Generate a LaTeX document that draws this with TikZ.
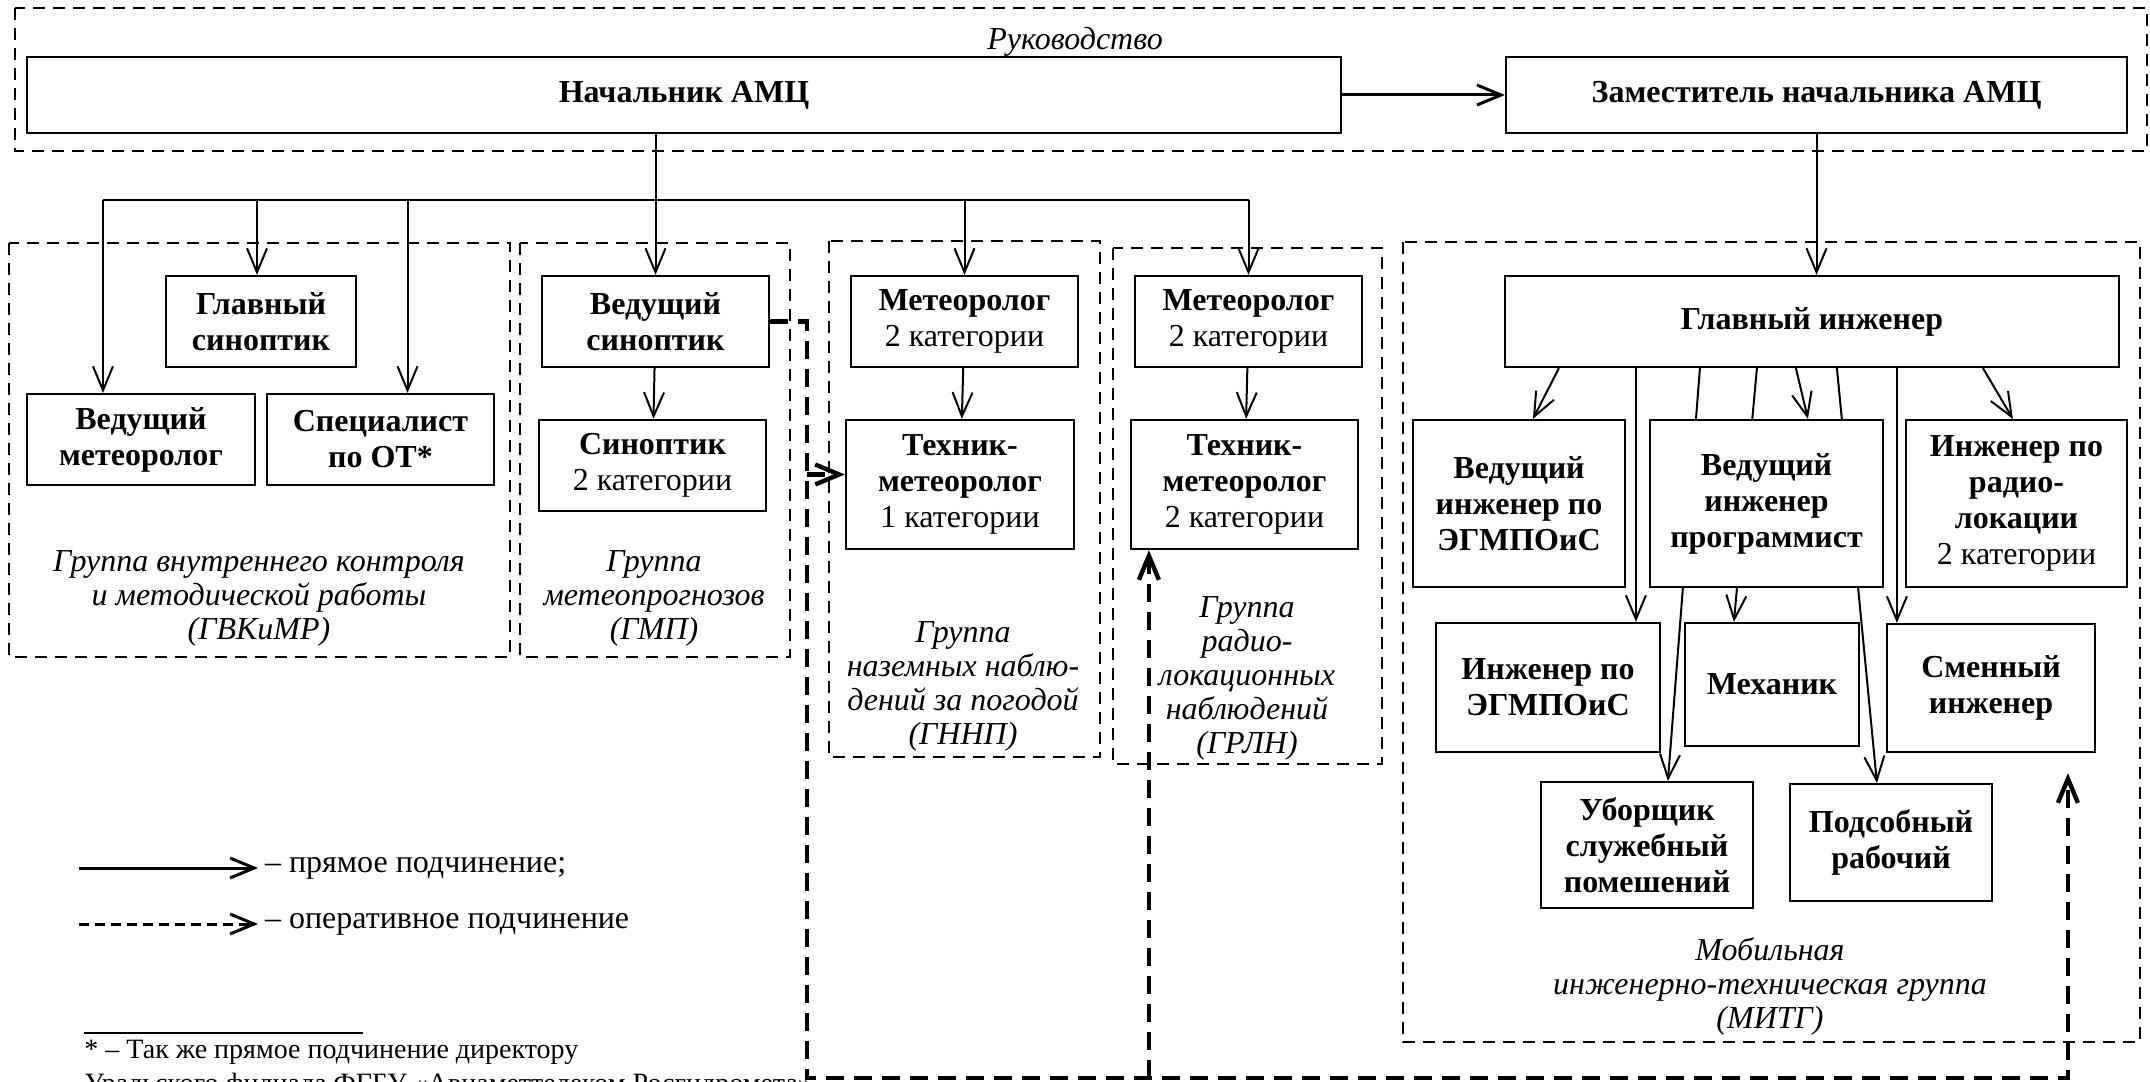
\documentclass[tikz,border=0pt]{standalone}
\usepackage{fontspec}
\setmainfont{Liberation Serif}
\usetikzlibrary{arrows.meta,calc,backgrounds}

\begin{document}
\begin{tikzpicture}[x=0.5pt, y=-0.5pt,
  font=\fontsize{16}{18}\selectfont,
  box/.style={draw, line width=1.1pt, fill=white, align=center, inner sep=2pt,
    font=\fontsize{16}{18}\selectfont\bfseries},
  group/.style={draw, line width=1pt, dash pattern=on 6pt off 4pt},
  grouplabel/.style={align=center, font=\fontsize{16}{17}\selectfont\itshape},
  arr/.style={line width=1pt, -{Straight Barb[length=12pt,width=10pt]}},
  oper/.style={line width=2.2pt, dash pattern=on 9pt off 5pt, -{Straight Barb[length=12pt,width=10pt]}}]
 \useasboundingbox (0,0) rectangle (2150,1081);

 % groups
 \draw[group] (15,8) rectangle (2147,151);
 \draw[group] (9,243) rectangle (510,657);
 \draw[group] (520,243) rectangle (790,657);
 \draw[group] (829,241) rectangle (1100,757);
 \draw[group] (1113,248) rectangle (1382,764);
 \draw[group] (1403,242) rectangle (2140,1042);

 \node[grouplabel] (lruk) at (1075,42) {Руководство};
 \node[grouplabel] (lgvk) at (259,598) {Группа внутреннего контроля\\и методической работы\\(ГВКиМР)};
 \node[grouplabel] (lgmp) at (654,598) {Группа\\метеопрогнозов\\(ГМП)};
 \node[grouplabel] (lgnnp) at (963,686) {Группа\\наземных наблю-\\дений за погодой\\(ГННП)};
 \node[grouplabel] (lgrln) at (1247,678) {Группа\\радио-\\локационных\\наблюдений\\(ГРЛН)};
 \node[grouplabel] (lmitg) at (1770,986) {Мобильная\\инженерно-техническая группа\\(МИТГ)};

 % posts
 \node[box, minimum width=657pt, minimum height=38pt] (nach) at (684,95) {Начальник АМЦ};
 \node[box, minimum width=310.5pt, minimum height=38pt] (zam) at (1816.5,95) {Заместитель начальника АМЦ};
 \node[box, minimum width=95pt, minimum height=45.5pt] (glsin) at (261,321.5) {Главный\\синоптик};
 \node[box, minimum width=114pt, minimum height=45.5pt] (vedmet) at (141,439.5) {Ведущий\\метеоролог};
 \node[box, minimum width=113.5pt, minimum height=45.5pt] (spec) at (380.5,439.5) {Специалист\\по ОТ*};
 \node[box, minimum width=113.5pt, minimum height=45.5pt] (vedsin) at (655.5,321.5) {Ведущий\\синоптик};
 \node[box, minimum width=113.5pt, minimum height=45.5pt] (sin) at (652.5,465.5) {Синоптик\\\mdseries 2 категории};
 \node[box, minimum width=113.5pt, minimum height=45.5pt] (met1) at (964.5,321.5) {Метеоролог\\\mdseries 2 категории};
 \node[box, minimum width=114pt, minimum height=64.5pt] (tm1) at (960,484.5) {Техник-\\метеоролог\\\mdseries 1 категории};
 \node[box, minimum width=113.5pt, minimum height=45.5pt] (met2) at (1248.5,321.5) {Метеоролог\\\mdseries 2 категории};
 \node[box, minimum width=113.5pt, minimum height=64.5pt] (tm2) at (1244.5,484.5) {Техник-\\метеоролог\\\mdseries 2 категории};
 \node[box, minimum width=307pt, minimum height=45.5pt] (glinzh) at (1812,321.5) {Главный инженер};
 \node[box, minimum width=106pt, minimum height=83.5pt] (vie) at (1519,503.5) {Ведущий\\инженер по\\ЭГМПОиС};
 \node[box, minimum width=116.5pt, minimum height=83.5pt] (vip) at (1766.5,503.5) {Ведущий\\инженер\\программист};
 \node[box, minimum width=110.5pt, minimum height=83.5pt] (irl) at (2016.5,503.5) {Инженер по\\радио-\\локации\\\mdseries 2 категории};
 \node[box, minimum width=112pt, minimum height=64.5pt] (ie) at (1548,687.5) {Инженер по\\ЭГМПОиС};
 \node[box, minimum width=87pt, minimum height=61.5pt] (mech) at (1772,684.5) {Механик};
 \node[box, minimum width=104pt, minimum height=64pt] (smen) at (1991,688) {Сменный\\инженер};
 \node[box, minimum width=106pt, minimum height=63pt] (ubor) at (1647,845) {Уборщик\\служебный\\помешений};
 \node[box, minimum width=101pt, minimum height=58.5pt] (pods) at (1891,842.5) {Подсобный\\рабочий};

 \begin{pgfonlayer}{background}
  \draw[arr, line width=1.5pt] (nach) -- (zam);
  \draw[arr] (vedsin.north |- nach.south) -- (vedsin.north);
  \coordinate (bus) at (0,200);
  \foreach \n/\d in {vedmet/-38, glsin/-4, spec/27, met1/0, met2/0}{
   \coordinate (e\n) at ($(\n.north)+(\d,0)$);
   \draw[arr] (e\n |- bus) -- (e\n);
  }
  \draw[line width=1pt] (evedmet |- bus) -- (emet2 |- bus);
  \draw[arr] (vedsin) -- (sin);
  \draw[arr] (met1) -- (tm1);
  \draw[arr] (met2) -- (tm2);
  \draw[arr] (zam.south) -- (zam.south |- glinzh.north);
  \foreach \a/\n/\b in {55/vie/121, 132/ie/201, 196/ubor/128, 253/mech/50, 292/vip/159, 333/pods/88, 393/smen/11, 479/irl/108}
   \draw[arr] ($(glinzh.south west)+(\a,0)$) -- ($(\n.north west)+(\b,0)$);

  % operative
  \coordinate (otrunk) at (807,1078);
  \coordinate (osmen) at ($(smen.south west)+(182,20)$);
  \coordinate (otm1) at ([yshift=5pt]tm1.west);
  \coordinate (otm2) at ($(tm2.south west)+(19,0)$);
  \draw[oper] (vedsin.east) -- (vedsin.east -| otrunk) -- (otrunk) -- (otrunk -| osmen) -- (osmen);
  \draw[oper] (otm1 -| otrunk) -- (otm1);
  \draw[oper] (otm2 |- otrunk) -- (otm2);
 \end{pgfonlayer}

 % legend
 \coordinate (lpr0) at (79,868);
 \coordinate (lop0) at (79,924);
 \node[anchor=west] (lpr) at (258,868) {– прямое подчинение;};
 \node[anchor=west] (lop) at (258,924) {– оперативное подчинение};
 \draw[arr, line width=1.5pt] (lpr0) -- (lpr.west);
 \draw[arr, line width=1.5pt, dash pattern=on 5pt off 3pt] (lop0) -- (lop.west);

 \draw[line width=0.6pt] (84,1033) -- (363,1033);
 \node[anchor=north west, align=left, inner sep=0pt, font=\fontsize{14}{17}\selectfont] (fn) at (84,1040)
  {* – Так же прямое подчинение директору\\Уральского филиала ФГБУ «Авиаметтелеком Росгидромета»};
\end{tikzpicture}
\end{document}
